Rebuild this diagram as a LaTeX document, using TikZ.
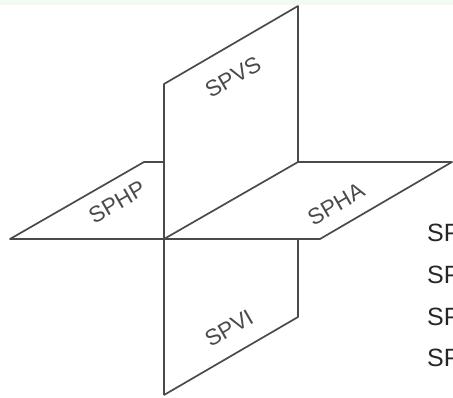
\documentclass[tikz,border=0pt]{standalone}
\usepackage{fontspec}
\setmainfont{Liberation Sans}
\definecolor{stripgreen}{HTML}{F1FBF3}
\definecolor{planeline}{HTML}{4A4A4A}
\tikzset{
    planeedge/.style={draw=planeline, line width=1.7pt, line join=round},
    planelabel/.style={font=\fontsize{22.5}{22.5}\selectfont, text=planeline, rotate=30, inner sep=0pt},
    sidelabel/.style={font=\fontsize{25}{25}\selectfont, text=black!85, anchor=west, inner sep=0pt}
}
\begin{document}
\begin{tikzpicture}[x=1pt, y=-1pt]
    \useasboundingbox (0, 0) rectangle (453, 397);
    \clip (0, 0) rectangle (453, 397);
    \fill[stripgreen] (0, 0) rectangle (453, 5);

    % corners
    \coordinate (centre) at (164, 239);
    \coordinate (vsbottom) at (298, 162);
    \coordinate (vstopleft) at (164, 84);
    \coordinate (vstopright) at (298, 6);
    \coordinate (haright) at (452, 162);
    \coordinate (hafront) at (320, 239);
    \coordinate (viright) at (298, 239);
    \coordinate (vilow) at (298, 317);
    \coordinate (vibottom) at (164, 395);
    \coordinate (hpleft) at (10, 239);
    \coordinate (hpback) at (144, 162);
    \coordinate (hpjoin) at (164, 162);

    % planos verticales
    \draw[planeedge] (vibottom) -- (vstopleft) -- (vstopright) -- (vsbottom) -- (centre);
    \draw[planeedge] (viright) -- (vilow) -- (vibottom);

    % planos horizontales
    \draw[planeedge] (vsbottom) -- (haright) -- (hafront) -- (hpleft) -- (hpback) -- (hpjoin);

    \node[planelabel] (spvs) at (233, 77) {SPVS};
    \node[planelabel] (sphp) at (117, 202) {SPHP};
    \node[planelabel] (spha) at (336, 204) {SPHA};
    \node[planelabel] (spvi) at (229, 328) {SPVI};

    \foreach \i/\y in {1/233, 2/275, 3/317, 4/358} {
        \node[sidelabel] (side\i) at (427, \y) {SP};
    }
\end{tikzpicture}
\end{document}
